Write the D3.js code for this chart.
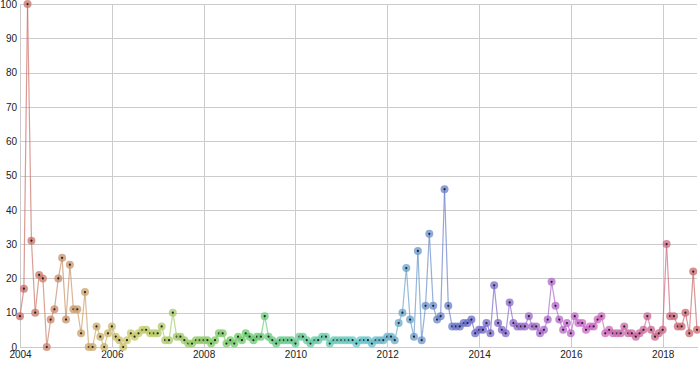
<!DOCTYPE html>
<html>
<head>
<meta charset="utf-8">
<script src="https://cdnjs.cloudflare.com/ajax/libs/d3/7.8.5/d3.min.js"></script>
<style>
  body { margin: 0; background: #fff; }
  svg { display: block; font-family: Arial, "Liberation Sans", sans-serif; }
  .axis text { font-size: 10px; fill: #222; }
  .axis line, .axis path { stroke: #ccc; shape-rendering: crispEdges; }
</style>
</head>
<body>
<svg id="chart" width="700" height="370"></svg>
<script>
// monthly values, one array per year (Jan..Dec)
const startDate = "2004-01-01";
const y2004 = [9, 17, 100, 31, 10, 21, 20, 0, 8, 11, 20, 26];
const y2005 = [8, 24, 11, 11, 4, 16, 0, 0, 6, 3, 0, 4];
const y2006 = [6, 3, 2, 0, 2, 4, 3, 4, 5, 5, 4, 4];
const y2007 = [4, 6, 2, 2, 10, 3, 3, 2, 1, 1, 2, 2];
const y2008 = [2, 2, 1, 2, 4, 4, 1, 2, 1, 3, 2, 4];
const y2009 = [3, 2, 3, 3, 9, 3, 2, 1, 2, 2, 2, 2];
const y2010 = [1, 3, 3, 2, 1, 2, 2, 3, 3, 1, 2, 2];
const y2011 = [2, 2, 2, 2, 1, 2, 2, 2, 1, 2, 2, 2];
const y2012 = [3, 3, 2, 7, 10, 23, 8, 3, 28, 2, 12, 33];
const y2013 = [12, 8, 9, 46, 12, 6, 6, 6, 7, 7, 8, 4];
const y2014 = [5, 5, 7, 4, 18, 7, 5, 4, 13, 7, 6, 6];
const y2015 = [6, 9, 6, 6, 4, 5, 8, 19, 12, 8, 5, 7];
const y2016 = [4, 9, 7, 7, 5, 6, 6, 8, 9, 4, 5, 4];
const y2017 = [4, 4, 6, 4, 4, 3, 4, 5, 9, 5, 3, 4];
const y2018 = [5, 30, 9, 9, 6, 6, 10, 4, 22, 5];
const yTicks = [0, 10, 20, 30, 40, 50, 60, 70, 80, 90, 100];

const values = [].concat(y2004, y2005, y2006, y2007, y2008, y2009, y2010,
  y2011, y2012, y2013, y2014, y2015, y2016, y2017, y2018);
const t0 = new Date(startDate + "T00:00:00");
const data = values.map(function(v, i) {
  return { date: d3.timeMonth.offset(t0, i), value: v, i: i };
});

const svg = d3.select("#chart");
const margin = { top: 4, right: 3, bottom: 23, left: 20 };
const width = 700 - margin.left - margin.right;
const height = 370 - margin.top - margin.bottom;
const g = svg.append("g")
  .attr("transform", "translate(" + margin.left + "," + margin.top + ")");

const x = d3.scaleTime()
  .domain([data[0].date, data[data.length - 1].date])
  .range([0, width]);
const y = d3.scaleLinear().domain([0, 100]).range([height, 0]);

// hue runs once round the wheel over the whole time span
const color = function(i) {
  return d3.hsl(360 * i / (data.length - 1), 0.48, 0.6).toString();
};

// grid + axes
g.append("g")
  .attr("class", "axis axis--y")
  .call(d3.axisLeft(y).tickValues(yTicks)
    .tickSizeInner(-width).tickSizeOuter(0).tickPadding(3));
g.append("g")
  .attr("class", "axis axis--x")
  .attr("transform", "translate(0," + height + ")")
  .call(d3.axisBottom(x).ticks(d3.timeYear.every(2))
    .tickFormat(d3.timeFormat("%Y"))
    .tickSizeInner(-height).tickSizeOuter(0).tickPadding(4));

// line, one segment per month so the colour can shift along it
const segs = d3.pairs(data);
g.append("g").attr("class", "lines")
  .selectAll("line")
  .data(segs)
  .enter().append("line")
  .attr("x1", function(d) { return x(d[0].date); })
  .attr("y1", function(d) { return y(d[0].value); })
  .attr("x2", function(d) { return x(d[1].date); })
  .attr("y2", function(d) { return y(d[1].value); })
  .style("stroke", function(d) { return color(d[0].i + 0.5); })
  .style("stroke-width", 1.2)
  .style("stroke-opacity", 0.7);

// points
const pts = g.append("g").attr("class", "points")
  .selectAll("g")
  .data(data)
  .enter().append("g")
  .attr("transform", function(d) {
    return "translate(" + x(d.date) + "," + y(d.value) + ")";
  });
pts.append("circle")
  .attr("r", 4)
  .style("fill", function(d) { return color(d.i); })
  .style("fill-opacity", 0.75);
pts.append("circle")
  .attr("r", 1.1)
  .style("fill", "#222");
</script>
</body>
</html>
